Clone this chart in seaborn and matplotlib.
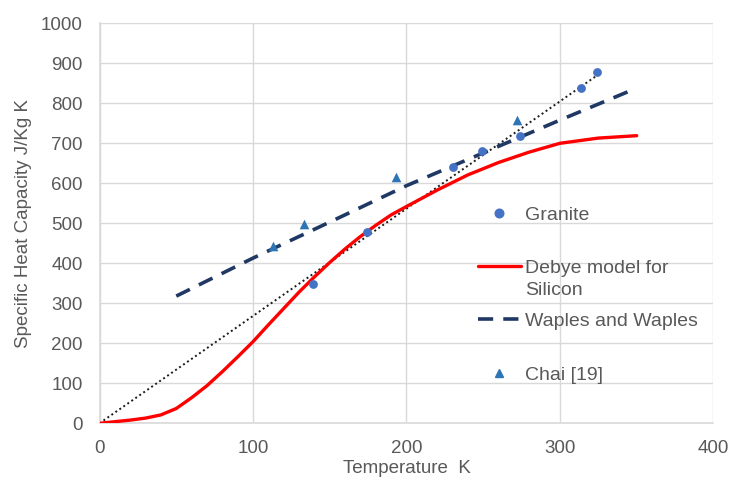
import matplotlib
matplotlib.use("Agg")
import matplotlib.pyplot as plt
import seaborn as sns
from matplotlib.lines import Line2D

# ---- data ----
granite_T = [139, 174, 230, 249, 274, 314, 324]
granite_c = [348, 477, 641, 681, 719, 839, 879]

chai_T = [113, 133, 193, 272]
chai_c = [442, 499, 615, 758]

debye_T = [0, 10, 20, 30, 40, 50, 60, 70, 80, 90, 100, 110, 120, 130, 140, 150,
           160, 170, 180, 190, 200, 220, 240, 260, 280, 300, 325, 350]
debye_c = [0, 4, 8, 13, 21, 37, 64, 94, 129, 166, 204, 246, 287, 328, 366, 402,
           436, 467, 495, 521, 542, 583, 621, 652, 678, 700, 713, 719]

waples_T = [50, 100, 150, 200, 250, 300, 345]
waples_c = [318, 413, 503, 594, 676, 758, 830]

trend_T = [0, 325]
trend_c = [0, 872]

x_ticks = [0, 100, 200, 300, 400]
y_ticks = [0, 100, 200, 300, 400, 500, 600, 700, 800, 900, 1000]

labels = ["Granite", "Debye model for", "Silicon", "Waples and Waples", "Chai [19]"]
x_label = "Temperature  K"
y_label = "Specific Heat Capacity J/Kg K"

# ---- style ----
sns.set_theme(style="whitegrid")
plt.rcParams['font.family'] = ['Liberation Sans', 'DejaVu Sans']
TXT = "#595959"
GRID = "#d9d9d9"
C_GRAN = "#4472C4"
C_CHAI = "#2E75B6"
C_WAP = "#203864"
C_RED = "#FF0000"
FS = 13.5

fig = plt.figure(figsize=(7.29, 4.83), dpi=100)
ax = fig.add_axes([0.1365, 0.1236, 0.9787 - 0.1365, 0.9518 - 0.1236])
ax.set_facecolor("white")

sns.lineplot(x=trend_T, y=trend_c, ax=ax, color="#1a1a1a", linewidth=1.4,
             linestyle=(0, (1, 1.5)), estimator=None, legend=False, zorder=2)
sns.lineplot(x=debye_T, y=debye_c, ax=ax, color=C_RED, linewidth=2.4,
             estimator=None, legend=False, zorder=3)
sns.lineplot(x=waples_T, y=waples_c, ax=ax, color=C_WAP, linewidth=2.6,
             linestyle=(0, (4.2, 2.8)), estimator=None, legend=False, zorder=3)
sns.scatterplot(x=granite_T, y=granite_c, ax=ax, color=C_GRAN, s=40,
                marker="o", edgecolor=C_GRAN, linewidth=0, zorder=4)
sns.scatterplot(x=chai_T, y=chai_c, ax=ax, color=C_CHAI, s=48,
                marker="^", edgecolor=C_CHAI, linewidth=0, zorder=4)

ax.set_xlim(0, 400)
ax.set_ylim(0, 1000)
ax.set_xticks(x_ticks)
ax.set_yticks(y_ticks)
ax.grid(True, color=GRID, linewidth=1.0)
ax.tick_params(axis="both", length=0, labelsize=FS, labelcolor=TXT, pad=12)
for s in ["top", "right"]:
    ax.spines[s].set_visible(False)
for s in ["left", "bottom"]:
    ax.spines[s].set_visible(True)
    ax.spines[s].set_color(GRID)
    ax.spines[s].set_linewidth(1.2)

ax.set_xlabel(x_label, fontsize=FS, color=TXT)
ax.set_ylabel(y_label, fontsize=FS, color=TXT)
ax.xaxis.set_label_coords(0.5, -0.092)
ax.yaxis.set_label_coords(-0.11, 0.5)

# ---- legend: one entry per row, placed like the reference ----
handles = [
    Line2D([], [], linestyle="none", marker="o", color=C_GRAN, markersize=6.2),
    Line2D([], [], color=C_RED, linewidth=2.4),
    Line2D([], [], linestyle="none"),
    Line2D([], [], color=C_WAP, linewidth=2.6, linestyle=(0, (4.2, 2.8))),
    Line2D([], [], linestyle="none", marker="^", color=C_CHAI, markersize=6.0),
]
rows_px = [215, 268, 290, 321, 375]
W, H = 729.0, 483.0
for h, lab, ypx in zip(handles, labels, rows_px):
    leg = ax.legend([h], [lab], loc="center left",
                    bbox_to_anchor=(478 / W, 1 - ypx / H),
                    bbox_transform=fig.transFigure, frameon=False,
                    borderpad=0, borderaxespad=0, handlelength=2.2,
                    handletextpad=0.2, numpoints=1,
                    prop={"size": 14, "family": ["Liberation Sans", "DejaVu Sans"]})
    for t in leg.get_texts():
        t.set_color(TXT)
    ax.add_artist(leg)
ax.legend_ = None

fig.savefig("out.png", dpi=100, facecolor="white")
